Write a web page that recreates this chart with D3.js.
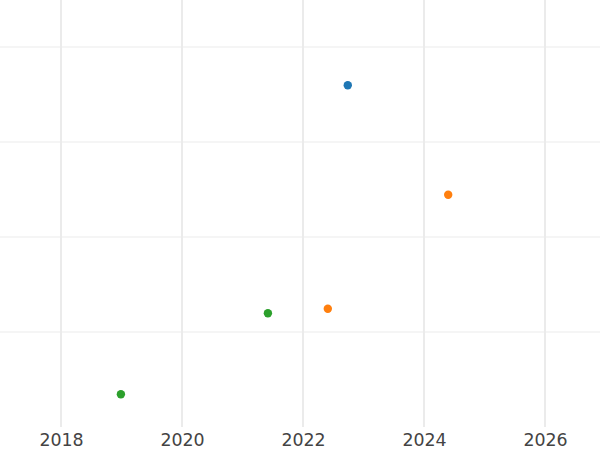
<!DOCTYPE html>
<html>
<head>
<meta charset="utf-8">
<script src="https://cdn.jsdelivr.net/npm/d3@7"></script>
<style>
html,body{margin:0;padding:0;background:#fff;}
svg{display:block;}
</style>
</head>
<body>
<svg id="chart" width="600" height="450"></svg>
<script>
const series = ["A", "B", "C"];
const colors = ["#1f77b4", "#ff7f0e", "#2ca02c"];
const xValues = [[2022.74], [2024.40, 2022.41], [2021.42, 2018.99]];
const yValues = [[3.597], [2.445, 1.245], [1.197, 0.344]];
const xTicks = [2018, 2020, 2022, 2024, 2026];
const yTicks = [1, 2, 3, 4];

const svg = d3.select("#chart");
const x = d3.scaleLinear().domain([2018, 2026]).range([61, 545]);
const y = d3.scaleLinear().domain([0, 4]).range([427, 47]);

const grid = svg.append("g");
grid.selectAll("line.h").data(yTicks).join("line")
  .attr("x1", 0).attr("x2", 600)
  .attr("y1", d => y(d)).attr("y2", d => y(d))
  .attr("stroke", "#ebebeb").attr("stroke-width", 1);
grid.selectAll("line.v").data(xTicks).join("line")
  .attr("x1", d => x(d)).attr("x2", d => x(d))
  .attr("y1", 0).attr("y2", 427)
  .attr("stroke", "#ebebeb").attr("stroke-width", 2);

const xAxis = svg.append("g").attr("transform", "translate(0,427)")
  .call(d3.axisBottom(x).tickValues(xTicks).tickFormat(d3.format("d")).tickSize(0).tickPadding(7));
xAxis.select(".domain").remove();
xAxis.attr("font-size", null).attr("font-family", null);
xAxis.selectAll("text").style("font-family", "DejaVu Sans").style("font-size", "17.4px").attr("fill", "#444");

const pts = [];
series.forEach((s, i) => xValues[i].forEach((xv, j) => pts.push({s, c: colors[i], x: xv, y: yValues[i][j]})));
svg.append("g").selectAll("circle").data(pts).join("circle")
  .attr("cx", d => x(d.x)).attr("cy", d => y(d.y)).attr("r", 4.2)
  .attr("fill", d => d.c);
</script>
</body>
</html>
